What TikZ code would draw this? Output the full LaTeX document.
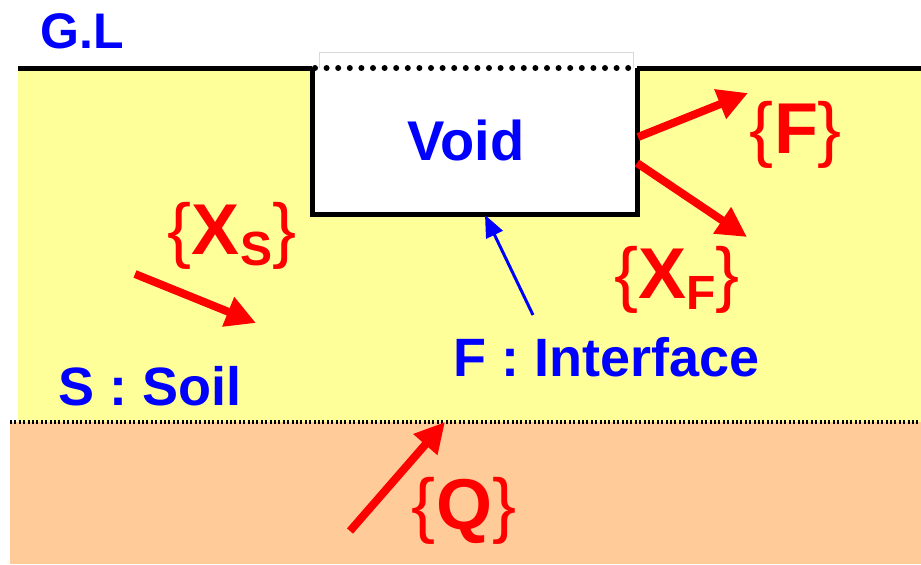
\documentclass[tikz,border=0pt]{standalone}
\usepackage{fontspec}
\setmainfont{Liberation Sans}
\usetikzlibrary{arrows.meta}

\definecolor{soilyellow}{RGB}{255,255,153}
\definecolor{baseorange}{RGB}{255,204,153}
\newcommand{\setbrace}[1]{{\mdseries\{}#1{\mdseries\}}}
\newcommand{\vsub}[3]{#1\raisebox{-5.5pt}{\fontsize{#3}{#3}\selectfont #2}}

\tikzset{
  bluelbl/.style={text=blue, inner sep=0pt, font=\bfseries\fontsize{#1}{#1}\selectfont},
  redlbl/.style={text=red, inner sep=0pt, font=\bfseries\fontsize{#1}{#1}\selectfont},
  vecarrow/.style={red, line width=4pt, -{Triangle[length=15pt,width=15pt]}},
  ptrarrow/.style={blue, line width=1.5pt, -{Triangle[length=11pt,width=9pt]}},
}

\begin{document}
\begin{tikzpicture}[x=0.5pt, y=-0.5pt]
\useasboundingbox (0,0) rectangle (921,564);
\fill[soilyellow] (18,68) rectangle (921,422);
\fill[baseorange] (10,422) rectangle (921,564);
\draw[gray!30, line width=0.4pt] (319,52) rectangle (633,213);
\fill[white] (312,68) rectangle (637,214);
\draw[line width=2.5pt] (18,68) -- (312,68);
\draw[line width=2.5pt] (637,68) -- (921,68);
\draw[line width=2.5pt] (312,68) -- (312,214) -- (637,214) -- (637,68);
\draw[line width=3pt, line cap=round, dash pattern=on 0pt off 5.8pt] (315,68) -- (637,68);
\draw[line width=2pt, dash pattern=on 1pt off 1.2pt] (10,422) -- (921,422);

\node[bluelbl=25pt] (gl) at (82,31) {G.L};
\node[bluelbl=28pt] (void) at (466,140) {Void};
\node[bluelbl=27pt] (soil) at (150,386) {S : Soil};
\node[bluelbl=27pt] (iface) at (607,357) {F : Interface};
\node[redlbl=36pt] (setF) at (796,135) {\setbrace{F}};
\node[redlbl=36pt] (setXF) at (677,280) {\setbrace{\vsub{X}{F}{24pt}}};
\node[redlbl=36pt] (setXS) at (232,236) {\setbrace{\vsub{X}{S}{24pt}}};
\node[redlbl=36pt] (setQ) at (464,511) {\setbrace{Q}};

\coordinate (fA) at (638,137);
\coordinate (fB) at (748,93);
\coordinate (xfA) at (637,163);
\coordinate (xfB) at (747,237);
\coordinate (xsA) at (135,274);
\coordinate (xsB) at (256,323);
\coordinate (qA) at (350,531);
\coordinate (qB) at (445,422);
\coordinate (ifA) at (533,315);
\coordinate (ifB) at (485,215);

\draw[vecarrow] (fA) -- (fB);
\draw[vecarrow] (xfA) -- (xfB);
\draw[vecarrow] (xsA) -- (xsB);
\draw[vecarrow] (qA) -- (qB);
\draw[ptrarrow] (ifA) -- (ifB);
\end{tikzpicture}
\end{document}
